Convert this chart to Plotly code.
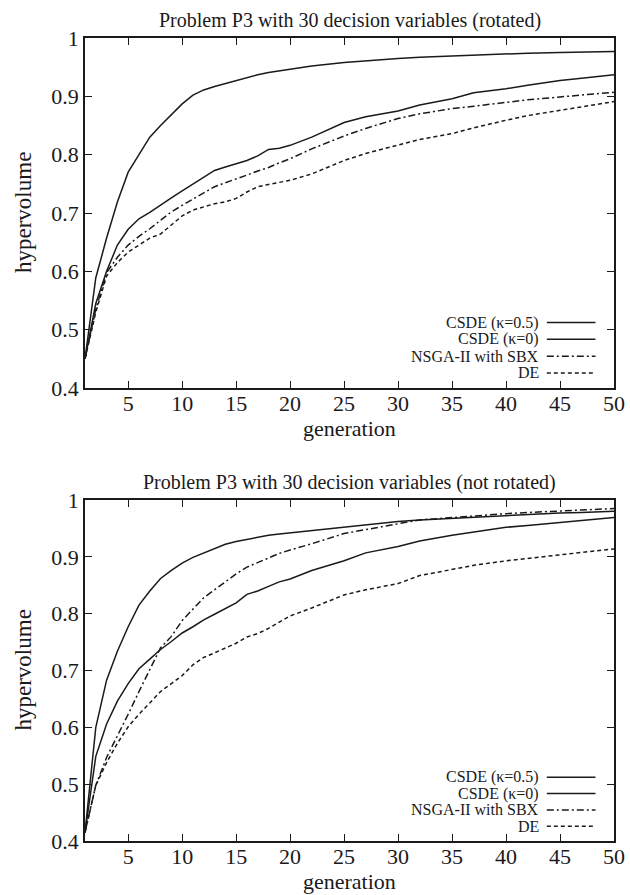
import plotly.graph_objects as go

generations = list(range(1, 21)) + [22, 25, 27, 30, 32, 35, 37, 40, 42, 45, 47, 50]

# Top panel (rotated)
rot_csde05 = [0.450, 0.589, 0.657, 0.719, 0.770, 0.799, 0.830, 0.850, 0.868, 0.887,
              0.902, 0.911, 0.917, 0.922, 0.928, 0.933, 0.937, 0.941, 0.944, 0.947,
              0.952, 0.958, 0.961, 0.965, 0.967, 0.969, 0.971, 0.973, 0.974, 0.975, 0.976, 0.977]
rot_csde0 = [0.450, 0.545, 0.600, 0.645, 0.672, 0.690, 0.701, 0.714, 0.726, 0.738,
             0.750, 0.762, 0.773, 0.779, 0.785, 0.790, 0.798, 0.809, 0.811, 0.816,
             0.830, 0.855, 0.865, 0.875, 0.885, 0.896, 0.906, 0.913, 0.919, 0.927, 0.931, 0.937]
rot_nsga = [0.450, 0.535, 0.598, 0.624, 0.645, 0.660, 0.673, 0.688, 0.702, 0.713,
            0.724, 0.735, 0.745, 0.752, 0.758, 0.765, 0.772, 0.778, 0.786, 0.793,
            0.810, 0.832, 0.845, 0.862, 0.870, 0.879, 0.883, 0.890, 0.894, 0.899, 0.902, 0.907]
rot_de = [0.450, 0.530, 0.592, 0.615, 0.633, 0.645, 0.657, 0.664, 0.680, 0.695,
          0.705, 0.711, 0.716, 0.719, 0.725, 0.736, 0.745, 0.749, 0.752, 0.756,
          0.767, 0.790, 0.802, 0.816, 0.826, 0.836, 0.846, 0.859, 0.867, 0.876, 0.882, 0.891]

# Bottom panel (not rotated)
nrot_csde05 = [0.415, 0.600, 0.683, 0.734, 0.777, 0.815, 0.840, 0.862, 0.876, 0.889,
               0.899, 0.907, 0.915, 0.922, 0.927, 0.931, 0.935, 0.938, 0.940, 0.942,
               0.947, 0.953, 0.957, 0.962, 0.965, 0.968, 0.970, 0.973, 0.975, 0.977, 0.978, 0.980]
nrot_csde0 = [0.415, 0.549, 0.606, 0.646, 0.677, 0.703, 0.720, 0.737, 0.751, 0.766,
              0.777, 0.789, 0.799, 0.809, 0.819, 0.834, 0.840, 0.848, 0.856, 0.861,
              0.876, 0.893, 0.907, 0.918, 0.928, 0.938, 0.944, 0.952, 0.955, 0.961, 0.964, 0.969]
nrot_nsga = [0.415, 0.498, 0.547, 0.584, 0.623, 0.663, 0.703, 0.740, 0.760, 0.788,
             0.808, 0.828, 0.842, 0.856, 0.870, 0.882, 0.890, 0.899, 0.906, 0.912,
             0.923, 0.941, 0.948, 0.959, 0.965, 0.969, 0.972, 0.976, 0.978, 0.981, 0.983, 0.985]
nrot_de = [0.415, 0.498, 0.538, 0.572, 0.601, 0.623, 0.643, 0.663, 0.677, 0.691,
           0.710, 0.723, 0.731, 0.740, 0.748, 0.759, 0.765, 0.774, 0.785, 0.796,
           0.810, 0.833, 0.842, 0.853, 0.867, 0.878, 0.885, 0.893, 0.897, 0.904, 0.908, 0.914]

series_names = ["CSDE (κ=0.5)", "CSDE (κ=0)", "NSGA-II with SBX", "DE"]
panel_titles = ["Problem P3 with 30 decision variables (rotated)",
                "Problem P3 with 30 decision variables (not rotated)"]
x_ticks = [5, 10, 15, 20, 25, 30, 35, 40, 45, 50]
y_ticks = [0.4, 0.5, 0.6, 0.7, 0.8, 0.9, 1.0]
y_ticklabels = ["0.4", "0.5", "0.6", "0.7", "0.8", "0.9", "1"]

dashes = ["solid", "solid", "7px,3px,2px,3px", "4px,3px"]
FONT = "Liberation Serif"
INK = "#1a1a1a"

fig = go.Figure()
panels = [
    ("x", "y", [rot_csde05, rot_csde0, rot_nsga, rot_de]),
    ("x2", "y2", [nrot_csde05, nrot_csde0, nrot_nsga, nrot_de]),
]
for xa, ya, data in panels:
    for name, vals, dash in zip(series_names, data, dashes):
        fig.add_trace(go.Scatter(x=generations, y=vals, mode="lines", name=name,
                                 xaxis=xa, yaxis=ya, showlegend=False,
                                 line=dict(color=INK, width=1.5, dash=dash)))

axis_common = dict(showline=True, linecolor=INK, linewidth=1.5, mirror="ticks",
                   ticks="inside", ticklen=7, tickwidth=1.2, tickcolor=INK,
                   showgrid=False, zeroline=False, automargin=False,
                   tickfont=dict(family=FONT, size=22, color=INK))

H = 895
t, b = 38, 54
ph = H - t - b
top_dom = [(H - b - 388) / ph, 1.0]
bot_dom = [0.0, (H - b - 500) / ph]

for xk, yk, dom, yanchor, xanchor in [
        ("xaxis", "yaxis", top_dom, "y", "x"),
        ("xaxis2", "yaxis2", bot_dom, "y2", "x2")]:
    fig.layout[xk] = dict(axis_common, range=[1, 50], tickvals=x_ticks, anchor=yanchor,
                          ticklabelstandoff=-5)
    fig.layout[yk] = dict(axis_common, range=[0.4, 1.0], tickvals=y_ticks,
                          ticktext=y_ticklabels, domain=dom, anchor=xanchor)

annotations = []
shapes = []
legend_y = [0.187, 0.139, 0.091, 0.043]
for pi, (xa, ya) in enumerate([("x", "y"), ("x2", "y2")]):
    xd, yd = xa + " domain", ya + " domain"
    annotations.append(dict(text=panel_titles[pi], xref=xd, yref=yd,
                            x=0.5, y=1.0, yshift=4, xanchor="center", yanchor="bottom",
                            showarrow=False, font=dict(family=FONT, size=20, color=INK)))
    annotations.append(dict(text="generation", xref=xd, yref=yd,
                            x=0.5, y=0.0, yshift=-40, xanchor="center", yanchor="middle",
                            showarrow=False, font=dict(family=FONT, size=22, color=INK)))
    annotations.append(dict(text="hypervolume", xref=xd, yref=yd, textangle=-90,
                            x=0.0, y=0.5, xshift=-62, xanchor="center", yanchor="middle",
                            showarrow=False, font=dict(family=FONT, size=23, color=INK)))
    for name, dash, ly in zip(series_names, dashes, legend_y):
        annotations.append(dict(text=name, xref=xd, yref=yd,
                                x=0.862, y=ly, xanchor="right", yanchor="middle",
                                showarrow=False, font=dict(family=FONT, size=16, color=INK)))
        shapes.append(dict(type="line", xref=xd, yref=yd,
                           x0=0.873, x1=0.965, y0=ly, y1=ly,
                           line=dict(color=INK, width=1.5, dash=dash)))

fig.update_layout(width=630, height=H, margin=dict(l=85, r=16, t=t, b=b),
                  paper_bgcolor="white", plot_bgcolor="white",
                  annotations=annotations, shapes=shapes, showlegend=False)

fig.write_html("out.html")
